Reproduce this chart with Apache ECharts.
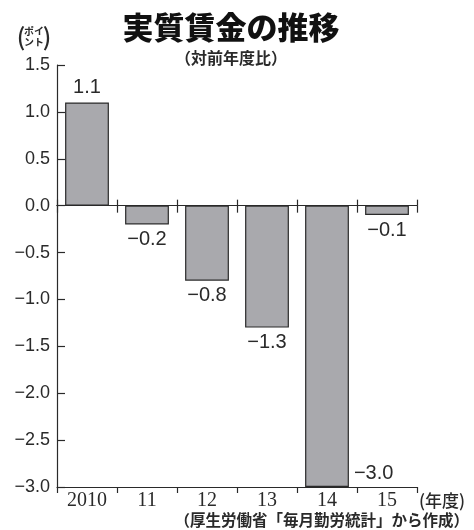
<!DOCTYPE html>
<html>
<head>
<meta charset="utf-8">
<script src="https://cdn.jsdelivr.net/npm/echarts@6/dist/echarts.min.js"></script>
<style>html,body{margin:0;padding:0;background:#fff;}#c{width:474px;height:530px;}</style>
</head>
<body>
<div id="c"></div>
<script>
const categories = ['2010', '11', '12', '13', '14', '15'];
const values = [1.1, -0.2, -0.8, -1.3, -3.0, -0.1];
const yMin = -3.0, yMax = 1.5, yStep = 0.5;
const titleText = '実質賃金の推移';
const subtitleText = '（対前年度比）';
const yNameLines = ['ポイ', 'ント'];
const xName = '(年度)';
const sourceText = '（厚生労働省「毎月勤労統計」から作成）';

const fmt = v => (v < 0 ? '−' : '') + Math.abs(v).toFixed(1);
const ink = '#2a2a2a';
const sans = '"Liberation Sans", Arial, sans-serif';
const serif = '"Liberation Serif", "DejaVu Serif", serif';
const cjk = '"Noto Sans CJK JP", sans-serif';

const chart = echarts.init(document.getElementById('c'), null, {renderer: 'canvas'});

const barData = values.map(v => {
  const d = {value: v};
  if (v <= yMin) {
    d.label = {position: ['100%', '100%'], align: 'left', verticalAlign: 'bottom', offset: [5, -4]};
  }
  return d;
});

const lineSt = {color: ink, width: 1.2};
const catAxisBase = {
  type: 'category', data: categories, gridIndex: 0, boundaryGap: true,
  splitLine: {show: false}
};

chart.setOption({
  animation: false,
  grid: {left: 57, right: 57, top: 65, bottom: 43, containLabel: false},
  xAxis: [
    Object.assign({}, catAxisBase, {
      position: 'bottom',
      axisLine: {show: true, onZero: false, lineStyle: lineSt},
      axisTick: {show: true, alignWithLabel: false, interval: 0, inside: false, length: 6, lineStyle: lineSt},
      axisLabel: {color: ink, fontFamily: serif, fontSize: 20, margin: 4}
    }),
    Object.assign({}, catAxisBase, {
      position: 'bottom',
      axisLine: {show: true, onZero: true, onZeroAxisIndex: 0, lineStyle: lineSt},
      axisTick: {show: true, alignWithLabel: false, interval: 0, inside: true, length: 6, lineStyle: lineSt},
      axisLabel: {show: false}
    }),
    Object.assign({}, catAxisBase, {
      position: 'bottom',
      axisLine: {show: true, onZero: true, onZeroAxisIndex: 1, lineStyle: lineSt},
      axisTick: {show: true, alignWithLabel: false, interval: 0, inside: false, length: 7, lineStyle: lineSt},
      axisLabel: {show: false}
    })
  ],
  yAxis: [
    {
      type: 'value', min: yMin, max: yMax, interval: yStep,
      axisLine: {show: true, lineStyle: lineSt},
      axisTick: {show: true, inside: true, length: 8, lineStyle: lineSt},
      axisLabel: {color: ink, fontFamily: sans, fontSize: 18, margin: 7, formatter: fmt},
      splitLine: {show: false}
    },
    {
      type: 'value', min: yMin, max: yMax, interval: yStep,
      axisLine: {show: false}, axisTick: {show: false}, axisLabel: {show: false},
      splitLine: {show: false}
    }
  ],
  series: [{
    type: 'bar', xAxisIndex: 0, yAxisIndex: 0,
    data: barData,
    barCategoryGap: '27%',
    itemStyle: {color: '#a9a9ad', borderColor: ink, borderWidth: 1.2},
    label: {
      show: true, position: 'outside', distance: 5,
      color: ink, fontFamily: sans, fontSize: 20,
      formatter: p => fmt(p.value)
    },
    z: 3
  }],
  graphic: [
    {type: 'text', x: 231, y: 27, style: {text: titleText, fill: '#111', font: '900 31px ' + cjk, textAlign: 'center', textVerticalAlign: 'middle'}},
    {type: 'text', x: 231, y: 58, style: {text: subtitleText, fill: ink, font: 'bold 16px ' + cjk, textAlign: 'center', textVerticalAlign: 'middle'}},
    {type: 'text', x: 21, y: 37, style: {text: '(', fill: ink, font: '500 24px ' + cjk, textAlign: 'center', textVerticalAlign: 'middle'}},
    {type: 'text', x: 34, y: 31, style: {text: yNameLines[0], fill: ink, font: 'bold 10px ' + cjk, textAlign: 'center', textVerticalAlign: 'middle'}},
    {type: 'text', x: 34, y: 42, style: {text: yNameLines[1], fill: ink, font: 'bold 10px ' + cjk, textAlign: 'center', textVerticalAlign: 'middle'}},
    {type: 'text', x: 47, y: 37, style: {text: ')', fill: ink, font: '500 24px ' + cjk, textAlign: 'center', textVerticalAlign: 'middle'}},
    {type: 'text', x: 419, y: 501, style: {text: xName, fill: ink, font: '500 17px ' + cjk, textAlign: 'left', textVerticalAlign: 'middle'}},
    {type: 'text', x: 469, y: 520, style: {text: sourceText, fill: ink, font: 'bold 15.5px ' + cjk, textAlign: 'right', textVerticalAlign: 'middle'}}
  ]
});
</script>
</body>
</html>
